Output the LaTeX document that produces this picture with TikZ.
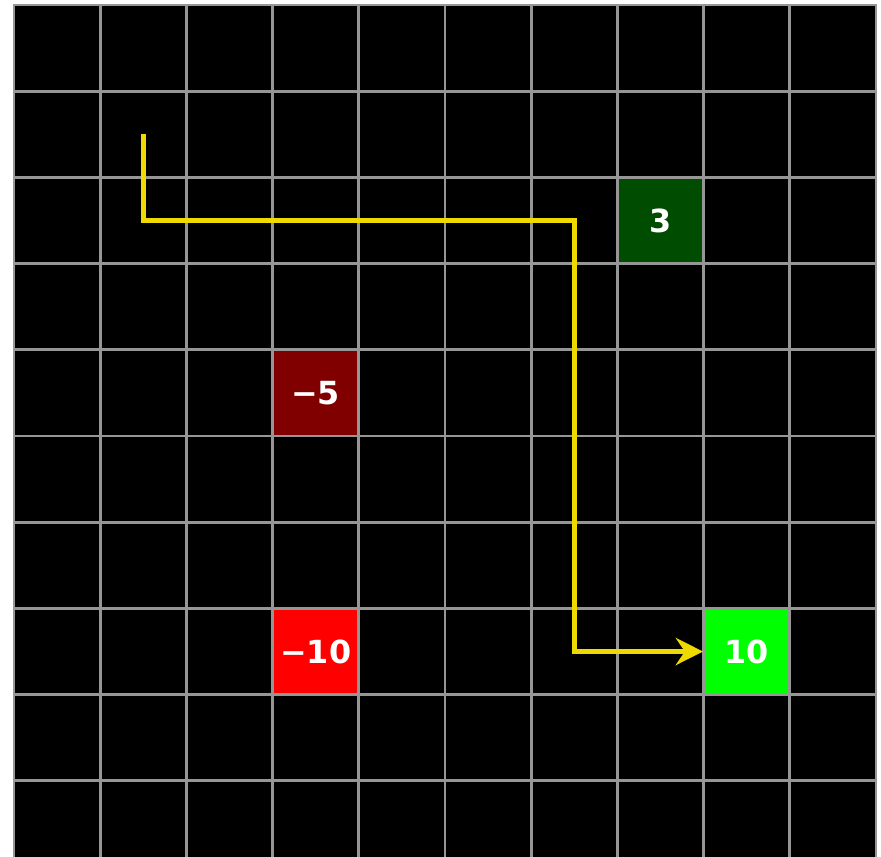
\documentclass[tikz,border=0pt]{standalone}
\usepackage{fontspec}
\setmainfont{DejaVu Sans}
\usetikzlibrary{arrows.meta}
\definecolor{gridgray}{RGB}{150,150,150}
\definecolor{pathyellow}{RGB}{238,218,0}
\definecolor{darkgreencell}{RGB}{0,76,0}
\definecolor{darkredcell}{RGB}{128,0,0}
\definecolor{redcell}{RGB}{255,0,0}
\definecolor{greencell}{RGB}{0,255,0}
\tikzset{
  cellbox/.style={minimum size=1cm, inner sep=0pt, draw=none, text=white,
    font=\fontsize{10.5pt}{12pt}\selectfont\bfseries},
  gridline/.style={gridgray, line width=0.9pt},
  route/.style={pathyellow, line width=1.8pt, line join=miter,
    -{Stealth[length=9pt, width=9pt, inset=3pt]}}
}
\begin{document}
\begin{tikzpicture}
\useasboundingbox (-0.162,0.128) rectangle (10.058,10.058);
\fill[white] (-0.162,0.128) rectangle (10.058,10.058);
\begin{scope}
\clip (-0.162,0.128) rectangle (10.058,10.058);
\fill[black] (0,0) rectangle (10,10);
\node[cellbox, fill=darkgreencell] (p3) at (7.5,7.5) {3};
\node[cellbox, fill=darkredcell] (m5) at (3.5,5.5) {−5};
\node[cellbox, fill=redcell] (m10) at (3.5,2.5) {−10};
\node[cellbox, fill=greencell] (p10) at (8.5,2.5) {10};
\draw[gridline] (0,0) grid (10,10);
\draw[gridline] (0,0) rectangle (10,10);
\coordinate (start) at (1.5,8.5);
\draw[route] (start) |- (6.5,7.5) |- (p10.west);
\end{scope}
\end{tikzpicture}
\end{document}
